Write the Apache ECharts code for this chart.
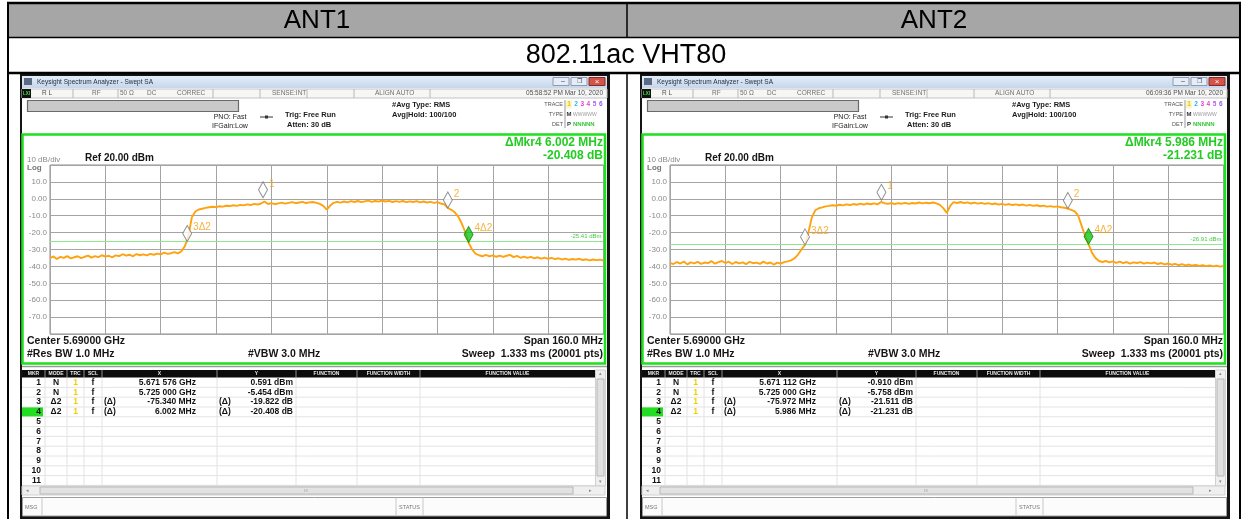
<!DOCTYPE html>
<html>
<head>
<meta charset="utf-8">
<script src="https://cdn.jsdelivr.net/npm/echarts@6/dist/echarts.min.js"></script>
<style>
html, body { margin: 0; padding: 0; background: #fff; }
#chart { width: 1244px; height: 519px; }
</style>
</head>
<body>
<div id="chart"></div>
<script>
// sweep: 5.610 - 5.770 GHz, one reading per MHz
const sweepStart = 5610;
const sweepStep = 1;

const ant1Level = [
  -35.2,-34.1,-35.6,-34.4,-35.0,-33.9,-35.3,-34.6,-34.0,-35.1,
  -34.3,-33.6,-34.8,-33.9,-34.5,-33.4,-34.2,-33.7,-34.6,-33.5,
  -33.9,-32.8,-33.6,-33.1,-34.0,-32.7,-33.4,-32.9,-33.5,-32.6,
  -33.1,-32.4,-32.9,-31.8,-32.6,-32.2,-31.5,-32.3,
  -31.0,-28.0,-22.0,-11.0,-7.5,-6.3,-5.9,-5.4,
  -5.0,-4.7,-4.9,-4.4,-4.6,-4.1,-4.3,-3.8,-4.2,-3.6,
  -3.9,-3.3,-3.7,-3.0,-3.4,-2.8,-1.6,-3.1,-2.6,-3.2,
  -2.7,-2.3,-2.9,-2.4,-2.0,-2.6,-2.2,-1.8,-2.5,-2.1,
  -1.9,-2.4,-3.0,-4.2,-6.4,
  -4.0,-2.4,-1.8,-2.3,-1.6,-2.1,-1.4,-1.9,-1.3,-2.0,
  -1.5,-1.1,-1.8,-1.3,-1.7,-1.0,-1.6,-1.2,-1.9,-1.4,
  -1.8,-1.3,-2.0,-1.5,-1.9,-1.4,-2.1,-1.6,-2.2,-1.8,
  -2.4,-2.0,-2.8,-3.3,-5.45,-6.5,
  -8.0,-10.5,-14.5,-19.5,-25.9,-30.0,-32.4,-33.4,
  -34.0,-33.2,-34.1,-33.5,-34.3,-33.6,-34.4,-33.7,-33.2,-34.5,
  -33.8,-34.9,-34.2,-35.0,-34.4,-35.2,-34.6,-35.4,-34.8,-35.5,
  -35.0,-35.7,-35.2,-35.9,-35.4,-36.1,-35.6,-36.0,-35.5,-36.2,
  -35.8,-36.4,-35.9,-36.3,-36.0,-36.5
];

const ant2Level = [
  -37.9,-38.6,-37.4,-38.3,-37.1,-38.8,-37.6,-38.2,-37.3,-38.5,
  -37.7,-38.1,-36.9,-38.4,-37.5,-36.8,-38.0,-37.2,-38.6,-37.4,
  -38.2,-37.6,-38.7,-37.3,-38.1,-37.8,-38.5,-37.2,-38.3,-37.7,
  -38.9,-37.8,-38.4,-37.5,-37.0,-36.4,-35.2,
  -33.0,-30.0,-27.3,-20.0,-11.0,-6.8,-5.6,-5.1,
  -4.5,-4.2,-3.8,-4.1,-3.5,-3.9,-3.3,-3.7,-3.1,-3.5,
  -2.9,-3.4,-2.8,-3.2,-2.7,-3.3,-1.9,-2.6,-3.0,-2.5,
  -3.1,-2.6,-2.9,-2.4,-3.0,-2.5,-2.8,-2.2,-2.7,-2.3,
  -2.6,-2.2,-2.7,-3.6,-5.5,-8.4,
  -4.2,-2.0,-2.5,-1.9,-2.6,-2.1,-2.8,-2.3,-2.9,-2.4,
  -3.0,-2.6,-3.2,-2.8,-3.4,-3.0,-3.6,-3.1,-3.7,-3.3,
  -3.8,-3.4,-4.0,-3.6,-4.2,-3.8,-4.4,-4.0,-4.6,-4.3,
  -4.8,-4.5,-5.0,-5.3,-5.76,-6.5,
  -7.4,-10.0,-16.0,-22.0,-27.0,-32.0,-35.0,-36.8,
  -37.4,-36.8,-37.6,-37.0,-37.9,-37.2,-38.1,-37.4,-38.3,-37.6,
  -38.0,-37.5,-38.4,-37.8,-38.2,-37.7,-38.6,-38.0,-38.8,-38.3,
  -39.0,-38.5,-39.2,-38.7,-39.4,-38.9,-39.5,-39.1,-39.7,-39.3,
  -39.8,-39.4,-40.0,-39.6,-40.1,-39.8
];

// markers (MHz, dBm)
const markerNames = ['1', '2', '3\u03942', '4\u03942'];
const ant1MarkerFreq = [5671.576, 5725.000, 5649.660, 5731.002];
const ant1MarkerLevel = [0.591, -5.454, -25.276, -25.862];
const ant2MarkerFreq = [5671.112, 5725.000, 5649.028, 5730.986];
const ant2MarkerLevel = [-0.910, -5.758, -27.269, -26.989];
const displayLine = [-25.41, -26.91];

const yTickLabels = { 10: '10.0', 0: '0.00', '-10': '-10.0', '-20': '-20.0', '-30': '-30.0',
  '-40': '-40.0', '-50': '-50.0', '-60': '-60.0', '-70': '-70.0' };

// marker table text
const ant1Table = [
  ['1', 'N', '1', 'f', '', '5.671 576 GHz', '', '0.591 dBm'],
  ['2', 'N', '1', 'f', '', '5.725 000 GHz', '', '-5.454 dBm'],
  ['3', '\u03942', '1', 'f', '(\u0394)', '-75.340 MHz', '(\u0394)', '-19.822 dB'],
  ['4', '\u03942', '1', 'f', '(\u0394)', '6.002 MHz', '(\u0394)', '-20.408 dB']
];
const ant2Table = [
  ['1', 'N', '1', 'f', '', '5.671 112 GHz', '', '-0.910 dBm'],
  ['2', 'N', '1', 'f', '', '5.725 000 GHz', '', '-5.758 dBm'],
  ['3', '\u03942', '1', 'f', '(\u0394)', '-75.972 MHz', '(\u0394)', '-21.511 dB'],
  ['4', '\u03942', '1', 'f', '(\u0394)', '5.986 MHz', '(\u0394)', '-21.231 dB']
];
const ant1Info = { date: '05:58:52 PM Mar 10, 2020', dMkr: '\u0394Mkr4 6.002 MHz', dVal: '-20.408 dB', table: ant1Table };
const ant2Info = { date: '06:09:36 PM Mar 10, 2020', dMkr: '\u0394Mkr4 5.986 MHz', dVal: '-21.231 dB', table: ant2Table };

const FONT = '"Liberation Sans", Arial, sans-serif';

function txt(x, y, s, size, color, opts) {
  opts = opts || {};
  let a = opts.align || 'left';
  return {
    type: 'text', x: x, y: y, z: 20, silent: true,
    style: {
      text: s, font: (opts.bold ? 'bold ' : '') + size + 'px ' + FONT, fill: color,
      align: a, verticalAlign: 'middle', textAlign: a, textVerticalAlign: 'middle'
    }
  };
}
function rect(x, y, w, h, fill, stroke, lw, z) {
  return {
    type: 'rect', z: z == null ? 5 : z, silent: true,
    shape: { x: x, y: y, width: w, height: h },
    style: { fill: fill || 'none', stroke: stroke || null, lineWidth: lw || 1 }
  };
}
function line(x1, y1, x2, y2, color, lw, z) {
  return {
    type: 'line', z: z == null ? 6 : z, silent: true,
    shape: { x1: x1, y1: y1, x2: x2, y2: y2 },
    style: { stroke: color, lineWidth: lw || 1 }
  };
}

// one analyzer screenshot (everything except the plot itself)
function panel(dx, info) {
  let g = [];
  let X = v => v + dx;
  // window frame
  g.push(rect(X(20), 74, 590, 445, '#141414', null, 1, -3));
  g.push(rect(X(22), 76, 585, 440, '#ffffff', null, 1, -2));
  g.push({
    type: 'rect', z: 4, silent: true, shape: { x: X(22), y: 76, width: 585, height: 12 },
    style: { fill: new echarts.graphic.LinearGradient(0, 0, 0, 1, [{ offset: 0, color: '#e4edf8' }, { offset: 1, color: '#c6d6ec' }]) }
  });
  g.push(rect(X(24), 78, 8, 7, '#5b6b86', null, 1, 6));
  g.push(txt(X(37), 82.5, 'Keysight Spectrum Analyzer - Swept SA', 6.5, '#1e2a3a'));
  g.push(rect(X(553), 77.5, 16, 8, '#e6edf6', '#8c9bb0', 1, 6));
  g.push(rect(X(571), 77.5, 16, 8, '#e6edf6', '#8c9bb0', 1, 6));
  g.push(rect(X(589), 77.5, 16, 8, '#d2544a', '#8a2a22', 1, 6));
  g.push(txt(X(561), 81.5, '\u2013', 7, '#445'), txt(X(579), 81.5, '\u2750', 6, '#445', { align: 'center' }),
    txt(X(597), 81.5, '\u00d7', 8, '#fff', { align: 'center' }));
  // status row
  g.push(rect(X(22), 89, 585, 9, '#f6f6f6', '#c4c4c4', 1, 4));
  g.push(rect(X(22), 89, 9, 9, '#111', null, 1, 6));
  g.push(txt(X(26.5), 93.5, 'LXI', 4.5, '#3ee03e', { align: 'center', bold: true }));
  [73, 118, 213, 260, 307, 354, 430].forEach(v => g.push(line(X(v), 89, X(v), 98, '#b8b8b8')));
  g.push(txt(X(42), 93.5, 'R L', 6.5, '#505050'), txt(X(92), 93.5, 'RF', 6.5, '#707070'),
    txt(X(120), 93.5, '50 \u03a9', 6.5, '#707070'), txt(X(147), 93.5, 'DC', 6.5, '#707070'),
    txt(X(177), 93.5, 'CORREC', 6.5, '#707070'), txt(X(272), 93.5, 'SENSE:INT', 6.5, '#707070'),
    txt(X(375), 93.5, 'ALIGN AUTO', 6.5, '#707070'), txt(X(603), 93.5, info.date, 6.5, '#505050', { align: 'right' }));
  // settings area
  g.push(rect(X(27.5), 100.5, 211, 11, '#c9c9c9', '#6a6a6a', 1.2, 6));
  g.push(txt(X(230), 117, 'PNO: Fast', 7, '#222', { align: 'center' }));
  g.push(txt(X(230), 126.5, 'IFGain:Low', 7, '#222', { align: 'center' }));
  g.push(line(X(260), 117, X(273), 117, '#333'), rect(X(265), 115.5, 3, 3, '#333', null, 1, 7));
  g.push(txt(X(285), 115, 'Trig: Free Run', 7.5, '#1a1a1a', { bold: true }));
  g.push(txt(X(287), 125, 'Atten: 30 dB', 7.5, '#1a1a1a', { bold: true }));
  g.push(txt(X(392), 104.5, '#Avg Type: RMS', 7.5, '#1a1a1a', { bold: true }));
  g.push(txt(X(392), 115, 'Avg|Hold: 100/100', 7.5, '#1a1a1a', { bold: true }));
  g.push(txt(X(563), 104.5, 'TRACE', 5.5, '#555', { align: 'right' }));
  g.push(txt(X(563), 114.5, 'TYPE', 5.5, '#555', { align: 'right' }));
  g.push(txt(X(563), 124, 'DET', 5.5, '#555', { align: 'right' }));
  g.push(line(X(565), 100, X(565), 128, '#999'));
  g.push(rect(X(566), 100.5, 6, 8, '#fbf6c8', null, 1, 6));
  g.push(txt(X(569), 104.5, '1', 6.5, '#e0c400', { align: 'center', bold: true }));
  ['#2ab7e6', '#e03fd8', '#d84ac4', '#b05fe0', '#9a58e0'].forEach((c, i) =>
    g.push(txt(X(576 + i * 6.2), 104.5, String(i + 2), 6.5, c, { align: 'center', bold: true })));
  g.push(txt(X(569), 114.5, 'M', 6, '#333', { align: 'center', bold: true }));
  g.push(txt(X(573), 114.5, 'WWWWW', 5, '#9a9a9a'));
  g.push(txt(X(569), 124, 'P', 6, '#333', { align: 'center', bold: true }));
  g.push(txt(X(573), 124, 'NNNNN', 6, '#39c639', { bold: true }));
  // green measurement frame
  g.push(rect(X(22.5), 134.5, 582.5, 229, null, '#1fe01f', 2.5, 8));
  g.push(txt(X(603), 143, info.dMkr, 12, '#22cc22', { align: 'right', bold: true }));
  g.push(txt(X(603), 156, info.dVal, 12, '#22cc22', { align: 'right', bold: true }));
  g.push(txt(X(27), 159.5, '10 dB/div', 8, '#8a8a8a'));
  g.push(txt(X(27), 167.5, 'Log', 8, '#777', { bold: true }));
  g.push(txt(X(85), 158.5, 'Ref 20.00 dBm', 10, '#151515', { bold: true }));
  g.push(txt(X(27), 341, 'Center 5.69000 GHz', 10.5, '#151515', { bold: true }));
  g.push(txt(X(603), 341, 'Span 160.0 MHz', 10.5, '#151515', { bold: true, align: 'right' }));
  g.push(txt(X(27), 354.5, '#Res BW 1.0 MHz', 10.5, '#151515', { bold: true }));
  g.push(txt(X(248), 354.5, '#VBW 3.0 MHz', 10.5, '#151515', { bold: true }));
  g.push(txt(X(603), 354.5, 'Sweep  1.333 ms (20001 pts)', 10.5, '#151515', { bold: true, align: 'right' }));
  // marker table
  g.push(line(X(22), 366.5, X(607), 366.5, '#9a9a9a', 1.5));
  g.push(rect(X(22), 370, 573, 7.5, '#0c0c0c', null, 1, 6));
  let cols = [45, 67, 84, 102, 217, 296, 357, 420];
  cols.forEach(v => {
    g.push(line(X(v), 370, X(v), 377.5, '#8a8a8a', 1, 7));
    g.push(line(X(v), 377.5, X(v), 486, '#e2e2e2', 1, 6));
  });
  [['MKR', 33.5], ['MODE', 56], ['TRC', 75.5], ['SCL', 93], ['X', 159.5], ['Y', 256.5],
    ['FUNCTION', 326.5], ['FUNCTION WIDTH', 388.5], ['FUNCTION VALUE', 507.5]].forEach(h =>
    g.push(txt(X(h[1]), 374, h[0], 5, '#e8e8e8', { align: 'center', bold: true })));
  for (let i = 0; i < 11; i++) {
    let y = 382.5 + 9.8 * i;
    g.push(line(X(22), y + 4.9, X(595), y + 4.9, '#e4e4e4', 1, 6));
    if (i === 3) g.push(rect(X(22), y - 4.5, 21, 9, '#22dd22', null, 1, 7));
    g.push(txt(X(41), y, String(i + 1), 8.5, '#111', { align: 'right', bold: true }));
  }
  info.table.forEach((r, i) => {
    let y = 382.5 + 9.8 * i;
    g.push(txt(X(56), y, r[1], 8.5, '#111', { align: 'center', bold: true }));
    g.push(txt(X(75.5), y, r[2], 8.5, '#f2d000', { align: 'center', bold: true }));
    g.push(txt(X(93), y, r[3], 8.5, '#111', { align: 'center', bold: true }));
    if (r[4]) g.push(txt(X(104), y, r[4], 8.5, '#111', { bold: true }));
    g.push(txt(X(196), y, r[5], 8.5, '#111', { align: 'right', bold: true }));
    if (r[6]) g.push(txt(X(219), y, r[6], 8.5, '#111', { bold: true }));
    g.push(txt(X(293), y, r[7], 8.5, '#111', { align: 'right', bold: true }));
  });
  // scrollbars
  g.push(rect(X(595.5), 370, 10, 116, '#efefef', '#d0d0d0', 1, 6));
  g.push(rect(X(597), 379, 7, 97, '#e0e0e0', '#b8b8b8', 1, 7));
  g.push(txt(X(600.5), 374, '\u25b4', 5, '#888', { align: 'center' }));
  g.push(txt(X(600.5), 481.5, '\u25be', 5, '#888', { align: 'center' }));
  g.push(rect(X(22), 486, 583, 9, '#efefef', '#d0d0d0', 1, 6));
  g.push(rect(X(40), 487, 533, 7, '#e2e2e2', '#b8b8b8', 1, 7));
  g.push(txt(X(27), 490.5, '\u25c2', 5, '#888', { align: 'center' }));
  g.push(txt(X(590), 490.5, '\u25b8', 5, '#888', { align: 'center' }));
  g.push(txt(X(306), 490.5, 'III', 4, '#999', { align: 'center' }));
  g.push(rect(X(22.5), 497.5, 584, 18.5, '#fcfcfc', '#9e9e9e', 1, 6));
  g.push(line(X(42), 497.5, X(42), 516, '#c8c8c8', 1, 7));
  g.push(line(X(396), 497.5, X(396), 516, '#c8c8c8', 1, 7));
  g.push(line(X(423), 497.5, X(423), 516, '#c8c8c8', 1, 7));
  g.push(txt(X(25), 507, 'MSG', 5.5, '#777'));
  g.push(txt(X(409.5), 507, 'STATUS', 5.5, '#777', { align: 'center' }));
  return g;
}

// outer report table
let graphics = [];
graphics.push(rect(8, 3, 1232, 34.5, '#a6a6a6', null, 1, -3));
graphics.push(line(7, 3, 1241, 3, '#000', 2.5), line(7, 37.5, 1241, 37.5, '#000', 1.5),
  line(7, 73, 1241, 73, '#000', 2.5), line(8, 2, 8, 519, '#000', 2), line(1240, 2, 1240, 519, '#000', 2),
  line(627, 3, 627, 37.5, '#000', 1.5), line(627, 73, 627, 519, '#000', 1.5));
graphics.push(txt(317, 21, 'ANT1', 26, '#000', { align: 'center' }));
graphics.push(txt(934, 21, 'ANT2', 26, '#000', { align: 'center' }));
graphics.push(txt(626, 56, '802.11ac VHT80', 27, '#000', { align: 'center' }));
graphics = graphics.concat(panel(0, ant1Info), panel(620, ant2Info));

function traceData(levels) {
  return levels.map((v, i) => [sweepStart + i * sweepStep, v]);
}
function markerData(freqs, levels) {
  return freqs.map((f, i) => ({
    value: [f, levels[i]], name: markerNames[i],
    itemStyle: i === 3 ? { color: '#17c617', borderColor: '#0b8a0b' } : { color: '#ffffff', borderColor: '#707070' }
  }));
}

let grids = [], xAxes = [], yAxes = [], series = [];
[[50, ant1Level, ant1MarkerFreq, ant1MarkerLevel], [670, ant2Level, ant2MarkerFreq, ant2MarkerLevel]].forEach((p, k) => {
  grids.push({ left: p[0], top: 165, width: 553.5, height: 169, show: true, backgroundColor: '#fff', borderColor: '#8a8a8a', borderWidth: 1 });
  xAxes.push({
    type: 'value', gridIndex: k, min: 5610, max: 5770, interval: 16,
    axisLine: { show: false }, axisTick: { show: false }, axisLabel: { show: false },
    splitLine: { show: true, lineStyle: { color: '#a4a4a4', width: 1 } }
  });
  yAxes.push({
    type: 'value', gridIndex: k, min: -80, max: 20, interval: 10,
    axisLine: { show: false }, axisTick: { show: false },
    axisLabel: { margin: 3, fontSize: 8, color: '#8a8a8a', fontFamily: FONT, formatter: v => yTickLabels[v] || '' },
    splitLine: { show: true, lineStyle: { color: '#a4a4a4', width: 1 } }
  });
  series.push({
    type: 'line', xAxisIndex: k, yAxisIndex: k, data: traceData(p[1]),
    showSymbol: false, lineStyle: { color: '#ffa20f', width: 1.9 }, z: 3,
    markLine: {
      silent: true, symbol: 'none', animation: false,
      lineStyle: { color: '#8ee88e', width: 1, type: 'solid' },
      label: { position: 'insideEndTop', formatter: displayLine[k].toFixed(2) + ' dBm', color: '#44cc44', fontSize: 6, fontFamily: FONT, distance: 2 },
      data: [{ yAxis: displayLine[k] }]
    }
  });
  series.push({
    type: 'scatter', xAxisIndex: k, yAxisIndex: k, data: markerData(p[2], p[3]),
    symbol: 'diamond', symbolSize: [9, 16], symbolOffset: [0, -8], z: 5,
    itemStyle: { borderWidth: 1 },
    label: { show: true, formatter: '{b}', position: 'right', distance: 1, offset: [0, -6], color: '#f5a010', fontSize: 10, fontFamily: FONT }
  });
});

let chart = echarts.init(document.getElementById('chart'), null, { renderer: 'canvas' });
chart.setOption({
  animation: false,
  backgroundColor: '#ffffff',
  grid: grids,
  xAxis: xAxes,
  yAxis: yAxes,
  series: series,
  graphic: { elements: graphics }
});
</script>
</body>
</html>
